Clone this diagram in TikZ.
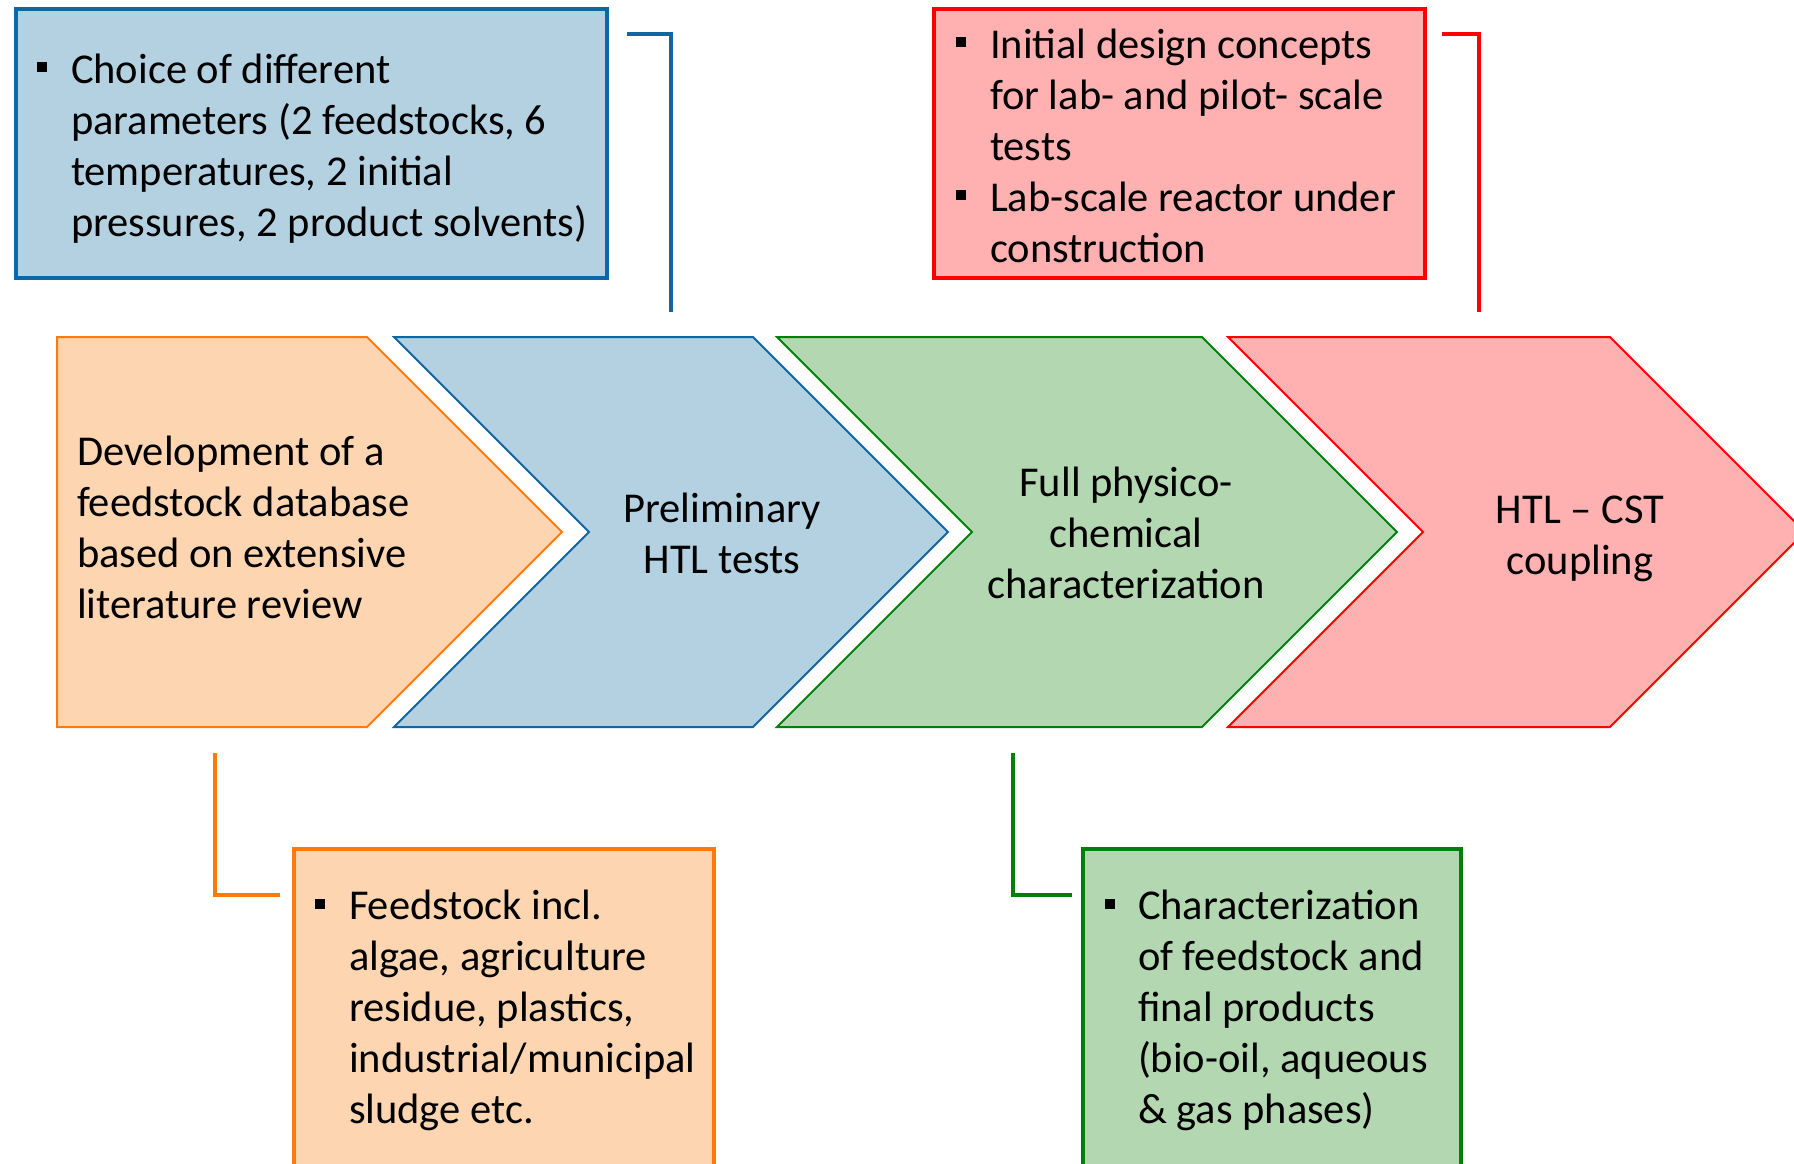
\documentclass[tikz,border=0pt]{standalone}
\usepackage{fontspec}
\setmainfont{Carlito}
\definecolor{blueline}{HTML}{0F66A0}
\definecolor{bluefill}{HTML}{B4D1E2}
\definecolor{redline}{HTML}{FF0000}
\definecolor{redfill}{HTML}{FFB1B1}
\definecolor{orangeline}{HTML}{FF7A0E}
\definecolor{orangefill}{HTML}{FDD5B1}
\definecolor{greenline}{HTML}{00800A}
\definecolor{greenfill}{HTML}{B3D8B1}
\begin{document}
\begin{tikzpicture}[x=1pt,y=-1pt,
  every node/.style={inner sep=0pt, outer sep=0pt},
  txt/.style={font=\fontsize{42.5}{51}\selectfont, align=left},
  ctxt/.style={font=\fontsize{42.5}{51}\selectfont, align=center},
  notebox/.style={draw=#1line, fill=#1fill, line width=4.5pt, rectangle, anchor=north west},
  chev/.style={draw=#1line, fill=#1fill, line width=2pt, line join=miter},
  bracket/.style={draw=#1line, line width=4.5pt},
  bullet/.style={fill=black, minimum size=10pt, rectangle}]
\useasboundingbox (0,0) rectangle (1794,1164);
\clip (0,0) rectangle (1794,1164);

% process chevrons
\draw[chev=orange] (57,337) -- (367,337) -- (562,532) -- (367,727) -- (57,727) -- cycle;
\draw[chev=blue]   (394,337) -- (753,337) -- (948,532) -- (753,727) -- (394,727) -- (589,532) -- cycle;
\draw[chev=green]  (777,337) -- (1202,337) -- (1397,532) -- (1202,727) -- (777,727) -- (972,532) -- cycle;
\draw[chev=red]    (1228,337) -- (1610,337) -- (1805,532) -- (1610,727) -- (1228,727) -- (1423,532) -- cycle;

% stage labels (anchored at the baseline of their last line)
\node[txt, anchor=base west] (stage1) at (77,618)
  {Development of a\\feedstock database\\based on extensive\\literature review};
\node[ctxt, anchor=base] (stage2) at (722,573) {Preliminary\\HTL tests};
\node[ctxt, anchor=base] (stage3) at (1126,598) {Full physico-\\chemical\\characterization};
\node[ctxt, anchor=base] (stage4) at (1580,574) {HTL -- CST\\coupling};

% note boxes
\node[notebox=blue, minimum width=591pt, minimum height=269pt] (paramsbox) at (16,9) {};
\node[notebox=red, minimum width=491pt, minimum height=269pt] (designbox) at (934,9) {};
\node[notebox=orange, minimum width=420pt, minimum height=360pt] (feedbox) at (294,849) {};
\node[notebox=green, minimum width=378pt, minimum height=360pt] (charbox) at (1083,849) {};

% bullets and texts
\node[bullet] (paramsbul) at (42,67) {};
\node[txt, anchor=base west] (paramstext) at (71,236)
  {Choice of different\\parameters (2 feedstocks, 6\\temperatures, 2 initial\\pressures, 2 product solvents)};
\node[bullet] (designbul1) at (961,42) {};
\node[bullet] (designbul2) at (961,195) {};
\node[txt, anchor=base west] (designtext) at (990,262)
  {Initial design concepts\\for lab- and pilot- scale\\tests\\Lab-scale reactor under\\construction};
\node[bullet] (feedbul) at (320,904) {};
\node[txt, anchor=base west] (feedtext) at (349,1123)
  {Feedstock incl.\\algae, agriculture\\residue, plastics,\\industrial/municipal\\sludge etc.};
\node[bullet] (charbul) at (1110,904) {};
\node[txt, anchor=base west] (chartext) at (1138,1123)
  {Characterization\\of feedstock and\\final products\\(bio-oil, aqueous\\\& gas phases)};

% brackets linking notes to stages
\coordinate (paramsend) at (671,312);
\coordinate (designend) at (1479,312);
\coordinate (feedstart) at (215,753);
\coordinate (charstart) at (1013,753);
\draw[bracket=blue] (paramsbox.east |- 0,34) ++(20,0) -| (paramsend);
\draw[bracket=red] (designbox.east |- 0,34) ++(17,0) -| (designend);
\draw[bracket=orange] (feedstart) |- ([xshift=-14pt]feedbox.west |- 0,895);
\draw[bracket=green] (charstart) |- ([xshift=-11pt]charbox.west |- 0,895);
\end{tikzpicture}
\end{document}
